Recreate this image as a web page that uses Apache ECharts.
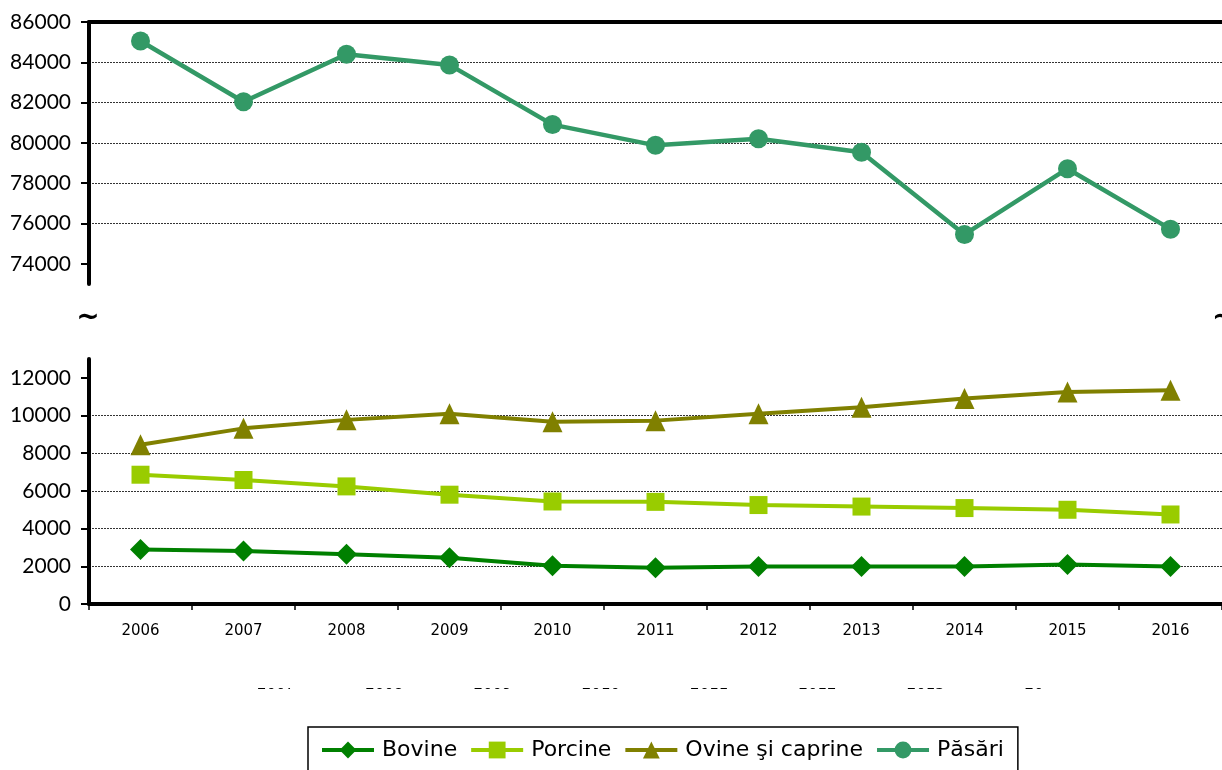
<!DOCTYPE html>
<html>
<head>
<meta charset="utf-8">
<script src="https://cdn.jsdelivr.net/npm/echarts@6/dist/echarts.min.js"></script>
<style>
html,body{margin:0;padding:0;background:#fff;overflow:hidden}
#c{width:1222px;height:770px}
</style>
</head>
<body>
<div id="c"></div>
<script>
const years = ['2006','2007','2008','2009','2010','2011','2012','2013','2014','2015','2016'];
const seriesNames = ['Bovine','Porcine','Ovine şi caprine','Păsări'];
const bovine  = [2890, 2810, 2640, 2450, 2030, 1920, 1990, 1990, 1990, 2090, 1990];
const porcine = [6860, 6580, 6240, 5800, 5440, 5420, 5250, 5170, 5090, 5000, 4750];
const ovine   = [8450, 9320, 9770, 10090, 9670, 9730, 10100, 10440, 10900, 11250, 11340];
const pasari  = [85060, 82040, 84400, 83870, 80910, 79880, 80210, 79540, 75460, 78720, 75720];
const topTicks = [74000, 76000, 78000, 80000, 82000, 84000, 86000];
const bottomTicks = [0, 2000, 4000, 6000, 8000, 10000, 12000];
const ghostLabels = ['2007','2008','2009','2010','2011','2012','2013','20'];

const colors = {bovine:'#008000', porcine:'#99CC00', ovine:'#808000', pasari:'#339966'};
const gridLine = {show:true, showMinLine:false, showMaxLine:false, lineStyle:{color:'#333', type:[2,1], width:1}};
const yLabel = {margin:18, fontFamily:'Lato', fontSize:21, color:'#000', formatter:(v) => String(v)};

const chart = echarts.init(document.getElementById('c'), null, {renderer:'canvas'});

const ghostTexts = ghostLabels.map((t, i) => ({
  type:'text', x: 276 + i * 108.3, y: 685, z: 1,
  style:{text:t, font:'15px "DejaVu Sans"', fill:'#000', align:'center', verticalAlign:'middle'}
}));

chart.setOption({
  animation:false,
  backgroundColor:'#fff',
  grid:[
    {left:89, top:22, width:1142, height:262},
    {left:89, top:359, width:1142, height:245}
  ],
  xAxis:[
    {gridIndex:0, type:'category', data:years, position:'top', boundaryGap:true,
     axisLine:{show:true, onZero:false, lineStyle:{color:'#000', width:4}},
     axisTick:{show:false}, axisLabel:{show:false}, splitLine:{show:false}},
    {gridIndex:1, type:'category', data:years, position:'bottom', boundaryGap:true,
     axisLine:{show:true, onZero:false, lineStyle:{color:'#000', width:4}},
     axisTick:{show:true, length:6, lineStyle:{color:'#000', width:1.5}},
     axisLabel:{margin:20, fontFamily:'DejaVu Sans', fontSize:15, color:'#000'},
     splitLine:{show:false}}
  ],
  yAxis:[
    {gridIndex:0, type:'value', min:73000, max:86000, splitNumber:6, minInterval:2000, maxInterval:2000,
     axisLine:{show:true, lineStyle:{color:'#000', width:4}},
     axisTick:{show:true, length:8, lineStyle:{color:'#000', width:2}, customValues:topTicks},
     axisLabel:Object.assign({customValues:topTicks}, yLabel),
     splitLine:gridLine},
    {gridIndex:1, type:'value', min:0, max:13000, splitNumber:6, minInterval:2000, maxInterval:2000,
     axisLine:{show:true, lineStyle:{color:'#000', width:4}},
     axisTick:{show:true, length:8, lineStyle:{color:'#000', width:2}, customValues:bottomTicks},
     axisLabel:Object.assign({customValues:bottomTicks}, yLabel),
     splitLine:gridLine}
  ],
  legend:{
    left:308, top:727,
    padding:[12, 14, 18, 12],
    itemGap:12, itemWidth:52, itemHeight:21,
    borderColor:'#000', borderWidth:1.5,
    lineStyle:{width:4},
    textStyle:{fontFamily:'DejaVu Sans', fontSize:22, color:'#000', padding:[0,0,0,3]},
    data:seriesNames
  },
  graphic:[
    {type:'text', x:88, y:318, z:10, style:{text:'~', font:'bold 28px "DejaVu Sans"', fill:'#000', align:'center', verticalAlign:'middle'}},
    {type:'text', x:1212, y:318, z:10, style:{text:'~', font:'bold 28px "DejaVu Sans"', fill:'#000', align:'left', verticalAlign:'middle'}}
  ].concat(ghostTexts).concat([
    {type:'rect', shape:{x:200, y:660, width:900, height:28}, z:2, style:{fill:'#fff'}}
  ]),
  series:[
    {name:seriesNames[0], type:'line', xAxisIndex:1, yAxisIndex:1, data:bovine,
     symbol:'diamond', symbolSize:21, itemStyle:{color:colors.bovine, borderWidth:0},
     lineStyle:{color:colors.bovine, width:4}},
    {name:seriesNames[1], type:'line', xAxisIndex:1, yAxisIndex:1, data:porcine,
     symbol:'rect', symbolSize:18, itemStyle:{color:colors.porcine, borderWidth:0},
     lineStyle:{color:colors.porcine, width:4}},
    {name:seriesNames[2], type:'line', xAxisIndex:1, yAxisIndex:1, data:ovine,
     symbol:'triangle', symbolSize:[20,21], itemStyle:{color:colors.ovine, borderWidth:0},
     lineStyle:{color:colors.ovine, width:4}},
    {name:seriesNames[3], type:'line', xAxisIndex:0, yAxisIndex:0, data:pasari,
     symbol:'circle', symbolSize:19, itemStyle:{color:colors.pasari, borderWidth:0},
     lineStyle:{color:colors.pasari, width:4.5}}
  ]
});
</script>
</body>
</html>
